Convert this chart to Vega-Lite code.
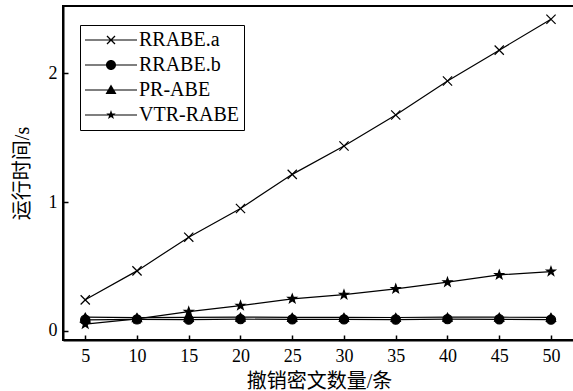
{
  "$schema": "https://vega.github.io/schema/vega-lite/v6.json",
  "width": 512,
  "height": 334,
  "autosize": {"type": "none"},
  "padding": {"left": 63, "top": 6, "right": 0, "bottom": 51},
  "background": "white",
  "config": {
    "view": {"stroke": "black", "strokeWidth": 2},
    "font": "Liberation Serif",
    "axis": {
      "domainColor": "black",
      "domainWidth": 2,
      "tickColor": "black",
      "tickWidth": 1.5,
      "tickSize": -5,
      "grid": false,
      "labelFont": "Liberation Serif",
      "labelFontSize": 18,
      "labelColor": "black",
      "titleFont": "Liberation Serif, Noto Sans CJK SC",
      "titleFontSize": 20,
      "titleFontWeight": "normal",
      "titleColor": "black"
    }
  },
  "data": {
    "values": [
      {"n": 5, "series": "RRABE.a", "t": 0.24},
      {"n": 10, "series": "RRABE.a", "t": 0.465},
      {"n": 15, "series": "RRABE.a", "t": 0.727},
      {"n": 20, "series": "RRABE.a", "t": 0.95},
      {"n": 25, "series": "RRABE.a", "t": 1.215},
      {"n": 30, "series": "RRABE.a", "t": 1.435},
      {"n": 35, "series": "RRABE.a", "t": 1.676},
      {"n": 40, "series": "RRABE.a", "t": 1.94},
      {"n": 45, "series": "RRABE.a", "t": 2.18},
      {"n": 50, "series": "RRABE.a", "t": 2.42},
      {"n": 5, "series": "RRABE.b", "t": 0.085},
      {"n": 10, "series": "RRABE.b", "t": 0.088},
      {"n": 15, "series": "RRABE.b", "t": 0.086},
      {"n": 20, "series": "RRABE.b", "t": 0.09},
      {"n": 25, "series": "RRABE.b", "t": 0.088},
      {"n": 30, "series": "RRABE.b", "t": 0.088},
      {"n": 35, "series": "RRABE.b", "t": 0.087},
      {"n": 40, "series": "RRABE.b", "t": 0.09},
      {"n": 45, "series": "RRABE.b", "t": 0.089},
      {"n": 50, "series": "RRABE.b", "t": 0.086},
      {"n": 5, "series": "PR-ABE", "t": 0.105},
      {"n": 10, "series": "PR-ABE", "t": 0.102},
      {"n": 15, "series": "PR-ABE", "t": 0.104},
      {"n": 20, "series": "PR-ABE", "t": 0.106},
      {"n": 25, "series": "PR-ABE", "t": 0.104},
      {"n": 30, "series": "PR-ABE", "t": 0.104},
      {"n": 35, "series": "PR-ABE", "t": 0.103},
      {"n": 40, "series": "PR-ABE", "t": 0.105},
      {"n": 45, "series": "PR-ABE", "t": 0.105},
      {"n": 50, "series": "PR-ABE", "t": 0.104},
      {"n": 5, "series": "VTR-RABE", "t": 0.052},
      {"n": 10, "series": "VTR-RABE", "t": 0.092},
      {"n": 15, "series": "VTR-RABE", "t": 0.148},
      {"n": 20, "series": "VTR-RABE", "t": 0.195},
      {"n": 25, "series": "VTR-RABE", "t": 0.248},
      {"n": 30, "series": "VTR-RABE", "t": 0.28},
      {"n": 35, "series": "VTR-RABE", "t": 0.325},
      {"n": 40, "series": "VTR-RABE", "t": 0.377},
      {"n": 45, "series": "VTR-RABE", "t": 0.434},
      {"n": 50, "series": "VTR-RABE", "t": 0.46}
    ]
  },
  "encoding": {
    "x": {
      "field": "n",
      "type": "quantitative",
      "scale": {"domain": [2.85, 52.32], "nice": false, "zero": false},
      "axis": {"values": [5, 10, 15, 20, 25, 30, 35, 40, 45, 50], "title": "撤销密文数量/条", "labelPadding": 12, "titlePadding": 6}
    },
    "y": {
      "field": "t",
      "type": "quantitative",
      "scale": {"domain": [-0.072, 2.523], "nice": false, "zero": false},
      "axis": {"values": [0, 1, 2], "title": "运行时间/s", "labelPadding": 11, "titlePadding": 16}
    }
  },
  "layer": [
    {
      "mark": {"type": "line", "color": "black", "strokeWidth": 1.2},
      "encoding": {"detail": {"field": "series"}}
    },
    {
      "mark": {"type": "point", "filled": true, "fill": "black", "stroke": "black", "strokeWidth": 1.2, "opacity": 1, "size": 85},
      "encoding": {
        "shape": {
          "field": "series",
          "type": "nominal",
          "scale": {
            "domain": ["RRABE.a", "RRABE.b", "PR-ABE", "VTR-RABE"],
            "range": [
              "M-1,-1L1,1M-1,1L1,-1",
              "circle",
              "triangle-up",
              "M0,-1L0.235,-0.324L0.951,-0.309L0.38,0.124L0.588,0.809L0,0.4L-0.588,0.809L-0.38,0.124L-0.951,-0.309L-0.235,-0.324Z"
            ]
          },
          "legend": null
        }
      }
    },
    {
      "transform": [{"filter": "datum.n < 0"}],
      "mark": {"type": "point", "filled": true, "fill": "black", "opacity": 1},
      "encoding": {
        "shape": {
          "field": "series",
          "type": "nominal",
          "scale": {
            "domain": ["RRABE.a", "RRABE.b", "PR-ABE", "VTR-RABE"],
            "range": [
              "M-1,-0.06H4.2V0.06H-1ZM1.246,-0.446L2.046,0.354L1.954,0.446L1.154,-0.354ZM1.154,0.354L1.954,-0.446L2.046,-0.354L1.246,0.446Z",
              "M-1,-0.06H4.2V0.06H-1ZM2.1,0A0.5,0.5,0,1,1,1.1,0A0.5,0.5,0,1,1,2.1,0Z",
              "M-1,-0.06H4.2V0.06H-1ZM1.6,-0.55L2.15,0.4L1.05,0.4Z",
              "M-1,-0.06H4.2V0.06H-1ZM1.6,-0.5L1.7175,-0.162L2.0755,-0.1545L1.79,0.062L1.894,0.4045L1.6,0.2L1.306,0.4045L1.41,0.062L1.1245,-0.1545L1.4825,-0.162Z"
            ]
          },
          "legend": {
            "title": null,
            "orient": "none",
            "legendX": 17,
            "legendY": 19,
            "padding": 5,
            "rowPadding": 5,
            "symbolSize": 400,
            "symbolStrokeWidth": 0,
            "symbolFillColor": "black",
            "symbolOpacity": 1,
            "labelOffset": 34,
            "labelFont": "Liberation Serif",
            "labelFontSize": 20,
            "labelColor": "black",
            "strokeColor": "black",
            "fillColor": "white"
          }
        }
      }
    }
  ],
  "resolve": {"scale": {"shape": "independent"}}
}
